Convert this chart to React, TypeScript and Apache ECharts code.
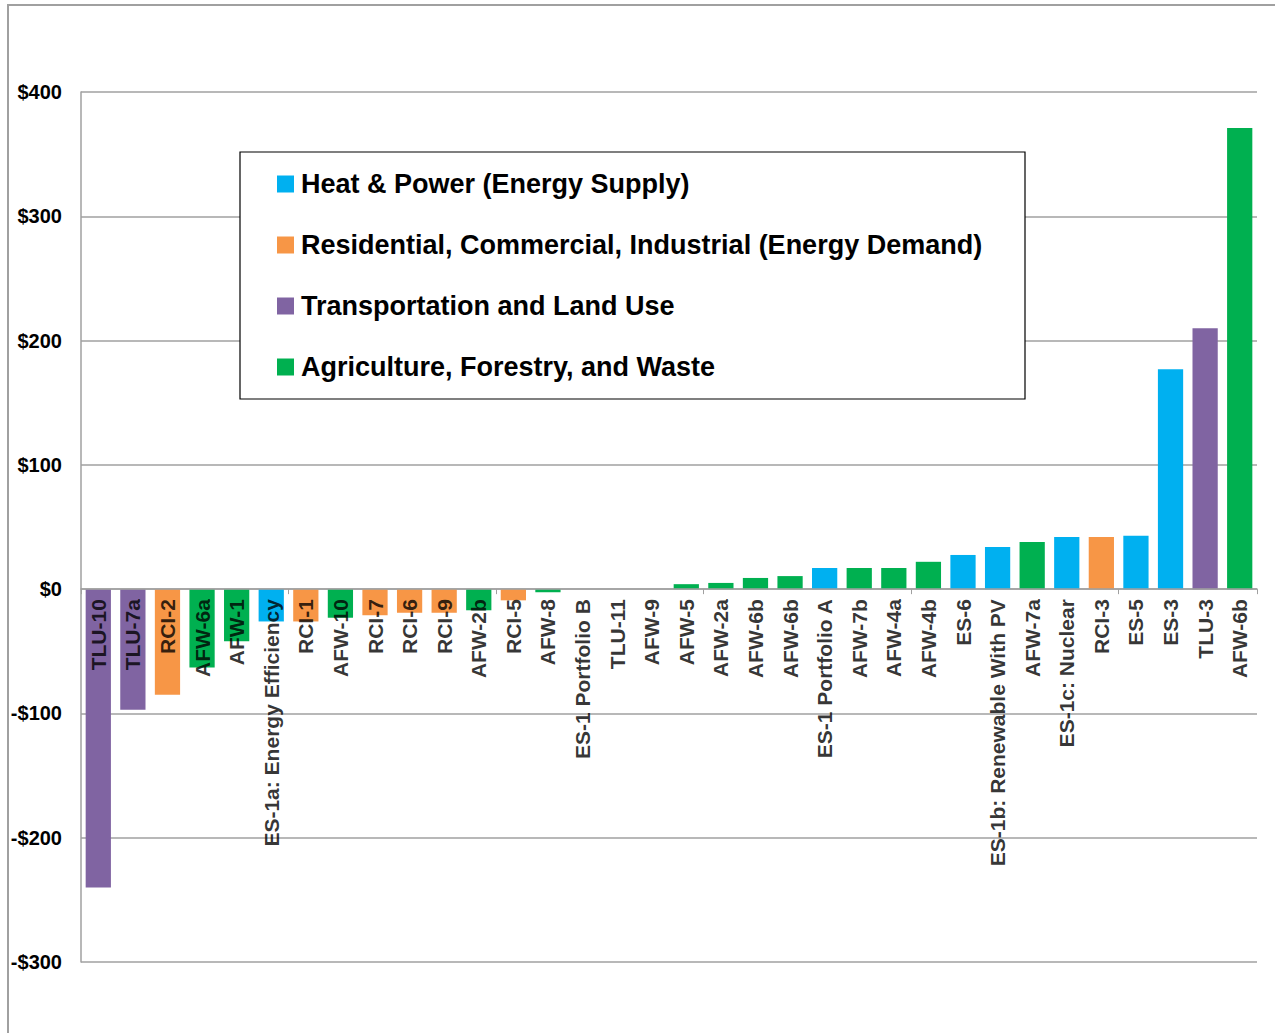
import React, { useEffect, useRef } from "react";
import * as echarts from "echarts";

const categories = [
  "TLU-10", "TLU-7a", "RCI-2", "AFW-6a", "AFW-1", "ES-1a: Energy Efficiency", "RCI-1", "AFW-10",
  "RCI-7", "RCI-6", "RCI-9", "AFW-2b", "RCI-5", "AFW-8", "ES-1 Portfolio B", "TLU-11", "AFW-9",
  "AFW-5", "AFW-2a", "AFW-6b", "AFW-6b", "ES-1 Portfolio A", "AFW-7b", "AFW-4a", "AFW-4b", "ES-6",
  "ES-1b: Renewable With PV", "AFW-7a", "ES-1c: Nuclear", "RCI-3", "ES-5", "ES-3", "TLU-3", "AFW-6b",
];

const values = [
  -240, -97, -85, -63, -42, -26, -26, -23,
  -21, -19, -19, -17, -9, -2.5, 0, 0, 0,
  4, 5, 9, 10.5, 17, 17, 17, 22, 27.5,
  34, 38, 42, 42, 43, 177, 210, 371,
];

// 0 = Heat & Power, 1 = RCI, 2 = Transportation, 3 = AFW
const groups = [
  2, 2, 1, 3, 3, 0, 1, 3,
  1, 1, 1, 3, 1, 3, 0, 2, 3,
  3, 3, 3, 3, 0, 3, 3, 3, 0,
  0, 3, 0, 1, 0, 0, 2, 3,
];

const groupNames = [
  "Heat & Power (Energy Supply)",
  "Residential, Commercial, Industrial (Energy Demand)",
  "Transportation and Land Use",
  "Agriculture, Forestry, and Waste",
];

const groupColors = ["#00B0F0", "#F79646", "#8064A2", "#00B050"];

const yTicks = { min: -300, max: 400, interval: 100 };

const FONT = "'Liberation Sans', Arial, sans-serif";

export default function App() {
  const ref = useRef<HTMLDivElement>(null);

  useEffect(() => {
    if (!ref.current) return;
    const chart = echarts.init(ref.current, undefined, { renderer: "svg" });

    const series: any[] = groupNames.map((name, gi) => ({
      name,
      type: "bar",
      stack: "all",
      barCategoryGap: "27%",
      itemStyle: { color: groupColors[gi] },
      data: values.map((v, i) => (groups[i] === gi ? v : null)),
    }));

    series.push({
      name: "labels",
      type: "scatter",
      symbolSize: 0,
      silent: true,
      z: 10,
      data: categories.map(() => 0),
      label: {
        show: true,
        position: "bottom",
        distance: 10,
        rotate: 90,
        align: "right",
        verticalAlign: "middle",
        fontFamily: FONT,
        fontWeight: "bold",
        fontSize: 21,
        color: "#000",
        formatter: (p: any) => categories[p.dataIndex],
      },
    });

    chart.setOption({
      animation: false,
      backgroundColor: "#ffffff",
      textStyle: { fontFamily: FONT },
      grid: {
        left: 81,
        right: 18,
        top: 92,
        bottom: 71,
        containLabel: false,
        outerBoundsMode: "none",
      },
      legend: {
        orient: "vertical",
        left: 272,
        top: 164,
        itemWidth: 17,
        itemHeight: 17,
        itemGap: 31,
        icon: "rect",
        textStyle: {
          fontFamily: FONT,
          fontWeight: "bold",
          fontSize: 27,
          color: "#000",
          lineHeight: 30,
          padding: [0, 0, 0, 2],
        },
        data: groupNames,
        z: 20,
      },
      graphic: [
        {
          type: "rect",
          shape: { x: 8, y: 5, width: 1280, height: 1040 },
          style: { fill: "none", stroke: "#a0a0a0", lineWidth: 2 },
          silent: true,
          z: 1,
        },
        {
          type: "rect",
          shape: { x: 240, y: 152, width: 785, height: 247 },
          style: { fill: "#ffffff", stroke: "#000000", lineWidth: 1.2 },
          silent: true,
          z: 15,
        },
      ],
      xAxis: {
        type: "category",
        data: categories,
        z: 10,
        axisLine: { onZero: true, lineStyle: { color: "#a0a0a0", width: 1.5 } },
        axisTick: { show: true, length: 5, lineStyle: { color: "#a0a0a0" } },
        axisLabel: { show: false },
        splitLine: { show: false },
      },
      yAxis: {
        type: "value",
        min: yTicks.min,
        max: yTicks.max,
        interval: yTicks.interval,
        axisLine: { show: true, lineStyle: { color: "#a0a0a0", width: 1.5 } },
        axisTick: { show: false },
        axisLabel: {
          margin: 19,
          fontFamily: FONT,
          fontWeight: "bold",
          fontSize: 20,
          color: "#000",
          formatter: (v: number) => (v < 0 ? "-$" + Math.abs(v) : "$" + v),
        },
        splitLine: { show: true, lineStyle: { color: "#a0a0a0", width: 1.5 } },
      },
      series,
    });

    return () => chart.dispose();
  }, []);

  return (
    <div
      ref={ref}
      style={{ position: "absolute", left: 0, top: 0, width: 1275, height: 1033 }}
    />
  );
}
